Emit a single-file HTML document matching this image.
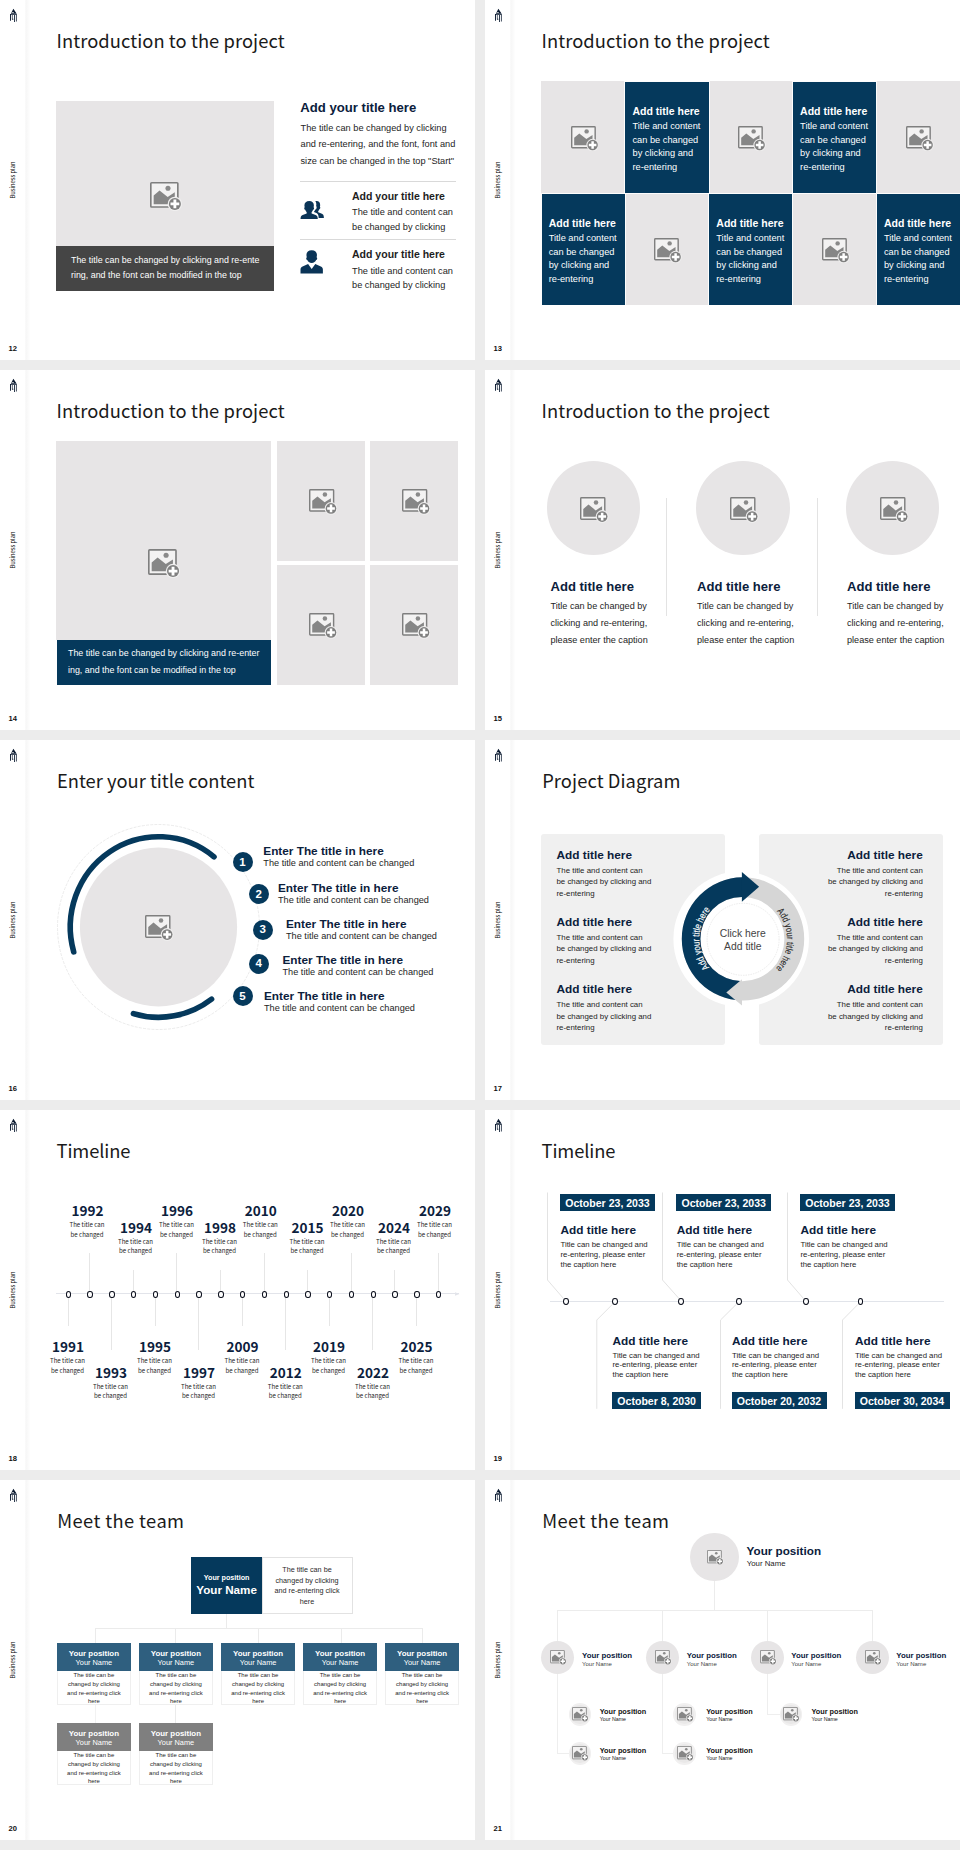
<!DOCTYPE html>
<html lang="en"><head><meta charset="utf-8"><title>Business plan slides</title>
<style>
html,body{margin:0;padding:0}
body{width:960px;height:1850px;position:relative;overflow:hidden;background:#ececec;font-family:"Liberation Sans", Arial, sans-serif;}
.slide{position:absolute;width:475px;height:360px;background:#fff;overflow:hidden}
.slide div,.slide svg{position:absolute}
.t{white-space:nowrap}
.h{font-family:"Noto Sans CJK SC", "DejaVu Sans", "Liberation Sans", sans-serif}
.sep{left:25px;top:0;width:5px;height:360px;background:linear-gradient(90deg,#fbfbfb 0,#f7f7f7 25%,#fafafa 60%,#fefefe 100%)}
.bp{left:-17px;top:174px;width:60px;height:12px;line-height:12px;font-size:5.77px;color:#000;text-align:center;transform:rotate(-90deg);white-space:nowrap;font-family:"Noto Sans CJK SC", "DejaVu Sans", "Liberation Sans", sans-serif}
.pn{left:8.5px;top:343.5px;font-size:7.6px;line-height:10px;font-weight:700;color:#111}
</style></head><body>

<div class="slide" style="left:0px;top:0px">
<div class="sep"></div>
<svg style="left:9px;top:8px" width="10" height="15" viewBox="0 0 10 15"><path d="M4.400.8L7.700 5.800H1.800zM1 6.050h6.900v.8H1zM1 6.400h.95v6.400H1zM2.900 7h.65v4.500h-.65zM3.200 10.800h1.100v1H3.200zM5.150 7h.85v6.900h-.85z" fill="#0a1a30"/><path d="M6.900 6.700H8v6.800H6.900z" fill="#0a1a30" opacity=".7"/><rect x="2.700" y="4.200" width="2.200" height=".65" fill="#fff"/></svg>
<div class="bp">Business plan</div>
<div class="pn">12</div>
<div class="t h" style="top:27px;font-size:18.33px;line-height:26px;color:#1a1a1a;letter-spacing:0.07px;left:56.5px;">Introduction to the project</div>
<div style="left:56px;top:101.2px;width:218px;height:144.8px;background:#e7e5e6;"></div>
<div style="left:56px;top:246px;width:218px;height:44.5px;background:#454545;"></div>
<svg style="left:149.5px;top:182.024px" width="32" height="28.9524" viewBox="0 0 31.5 28.5"><rect x="0.8" y="0.8" width="26.6" height="23.8" rx="0.8" fill="#f3f2f2" stroke="#7f7f7f" stroke-width="1.6"/><polygon points="3.6,13.2 9.4,8.4 17.4,14.8 24.4,10.2 24.4,21.8 3.6,21.8" fill="#868686"/><circle cx="17.7" cy="6.1" r="2.5" fill="#8a8a8a"/><circle cx="24.5" cy="21.6" r="7.1" fill="#f0efef"/><circle cx="24.5" cy="21.6" r="5.9" fill="#808080"/><path d="M23.1 17.3h2.8v2.9h2.9v2.8h-2.9v2.9h-2.8v-2.9h-2.9v-2.8h2.9z" fill="#fff"/></svg>
<div class="t" style="top:252.725px;font-size:8.9px;line-height:15.75px;color:#fff;left:71px;">The title can be changed by clicking and re-ente<br>ring, and the font can be modified in the top</div>
<div class="t" style="top:99.72px;font-size:13.13px;line-height:15.76px;color:#0b203c;font-weight:700;left:300.3px;">Add your title here</div>
<div class="t" style="top:119.725px;font-size:9.22px;line-height:16.75px;color:#242424;left:300.5px;">The title can be changed by clicking<br>and re-entering, and the font, font and<br>size can be changed in the top "Start"</div>
<div style="left:300px;top:181px;width:156px;height:1px;background:#d9d9d9;"></div>
<div style="left:300px;top:239px;width:156px;height:1px;background:#d9d9d9;"></div>
<div class="t" style="top:189.98px;font-size:10.53px;line-height:12.64px;color:#1e1e1e;font-weight:700;left:352px;">Add your title here</div>
<div class="t" style="top:205.3px;font-size:9.22px;line-height:14.6px;color:#242424;left:352px;">The title and content can<br>be changed by clicking</div>
<div class="t" style="top:248.18px;font-size:10.53px;line-height:12.64px;color:#1e1e1e;font-weight:700;left:352px;">Add your title here</div>
<div class="t" style="top:263.5px;font-size:9.22px;line-height:14.6px;color:#242424;left:352px;">The title and content can<br>be changed by clicking</div>
<svg style="left:299.6px;top:200px" width="24.6" height="19.7" viewBox="0 0 25 20"><path d="M16.700 1c2.500 0 3.800 1.600 3.800 4 0 .700-.100 1.300-.300 1.800.400.200.500.600.400 1.200-.100.700-.400 1.100-.800 1.200-.300.900-.700 1.600-1.300 2.100v1.200l3.800 1.500c1.100.500 1.700 1.300 1.800 2.500l.2 1.700h-5.300l-.2-1.700c-.2-1.700-1.100-2.900-2.700-3.500l-1.900-.8v-.3c.6-.6 1-1.300 1.300-2.200.7-.2 1.200-.9 1.400-1.900.1-.8-.1-1.400-.5-1.800.1-.5.2-1.100.2-1.700 0-1.300-.4-2.400-1-3.200.3-.1.700-.1 1.100-.1z" fill="#0a3457"/><path d="M9.400 1c2.900 0 4.700 1.700 4.700 4.400 0 .800-.100 1.500-.300 2 .400.200.600.700.500 1.300-.100.800-.500 1.200-1 1.300-.300 1-.800 1.800-1.500 2.400v1.200l4.100 1.600c1.200.500 1.900 1.300 2 2.600l.2 1.400H.5l.2-1.400c.1-1.300.8-2.100 2-2.600l4.100-1.600v-1.200c-.700-.600-1.200-1.400-1.500-2.400-.500-.100-.900-.500-1-1.300-.100-.600.100-1.100.500-1.300-.200-.500-.300-1.200-.300-2C4.500 2.700 6.500 1 9.400 1z" fill="#0a3457"/></svg>
<svg style="left:299.6px;top:248.6px" width="23.4" height="25.3" viewBox="0 0 24 26"><path d="M12 1.200c3.300 0 5.400 1.800 5.400 4.800 0 .900-.100 1.700-.400 2.400.500.200.700.800.600 1.500-.100.900-.500 1.400-1.100 1.500-.700 1.800-2.200 3-4.500 3s-3.800-1.200-4.500-3c-.600-.100-1-.600-1.100-1.500-.100-.700.100-1.300.600-1.500-.300-.700-.400-1.500-.400-2.400 0-3 2.100-4.800 5.400-4.800z" fill="#0a3457"/><path d="M8.300 15.300L12 20.600l3.700-5.300 5.700 2.600c1.400.600 2.100 1.700 2.100 3.200v4.200H.5v-4.200c0-1.500.7-2.600 2.100-3.200z" fill="#0a3457"/></svg>
</div>
<div class="slide" style="left:485px;top:0px">
<div class="sep"></div>
<svg style="left:9px;top:8px" width="10" height="15" viewBox="0 0 10 15"><path d="M4.400.8L7.700 5.800H1.800zM1 6.050h6.900v.8H1zM1 6.400h.95v6.400H1zM2.900 7h.65v4.500h-.65zM3.200 10.800h1.100v1H3.200zM5.150 7h.85v6.900h-.85z" fill="#0a1a30"/><path d="M6.900 6.700H8v6.800H6.900z" fill="#0a1a30" opacity=".7"/><rect x="2.700" y="4.200" width="2.200" height=".65" fill="#fff"/></svg>
<div class="bp">Business plan</div>
<div class="pn">13</div>
<div class="t h" style="top:27px;font-size:18.33px;line-height:26px;color:#1a1a1a;letter-spacing:0.07px;left:56.5px;">Introduction to the project</div>
<div style="left:56.2px;top:81.2px;width:418.8px;height:224.2px;background:#e7e5e6;"></div>
<svg style="left:85.6px;top:125.674px" width="27.8" height="25.1524" viewBox="0 0 31.5 28.5"><rect x="0.8" y="0.8" width="26.6" height="23.8" rx="0.8" fill="#f3f2f2" stroke="#7f7f7f" stroke-width="1.6"/><polygon points="3.6,13.2 9.4,8.4 17.4,14.8 24.4,10.2 24.4,21.8 3.6,21.8" fill="#868686"/><circle cx="17.7" cy="6.1" r="2.5" fill="#8a8a8a"/><circle cx="24.5" cy="21.6" r="7.1" fill="#f0efef"/><circle cx="24.5" cy="21.6" r="5.9" fill="#808080"/><path d="M23.1 17.3h2.8v2.9h2.9v2.8h-2.9v2.9h-2.8v-2.9h-2.9v-2.8h2.9z" fill="#fff"/></svg>
<div style="left:140.4px;top:82.2px;width:83.2px;height:110.5px;background:#05395c;box-shadow:0 0 0 0.9px #fff;"></div>
<div class="t" style="top:105.19px;font-size:10.52px;line-height:12.62px;color:#fff;font-weight:700;left:147.5px;">Add title here</div>
<div class="t" style="top:120.35px;font-size:9.24px;line-height:13.5px;color:#fff;left:147.5px;">Title and content<br>can be changed<br>by clicking and<br>re-entering</div>
<svg style="left:253.2px;top:125.674px" width="27.8" height="25.1524" viewBox="0 0 31.5 28.5"><rect x="0.8" y="0.8" width="26.6" height="23.8" rx="0.8" fill="#f3f2f2" stroke="#7f7f7f" stroke-width="1.6"/><polygon points="3.6,13.2 9.4,8.4 17.4,14.8 24.4,10.2 24.4,21.8 3.6,21.8" fill="#868686"/><circle cx="17.7" cy="6.1" r="2.5" fill="#8a8a8a"/><circle cx="24.5" cy="21.6" r="7.1" fill="#f0efef"/><circle cx="24.5" cy="21.6" r="5.9" fill="#808080"/><path d="M23.1 17.3h2.8v2.9h2.9v2.8h-2.9v2.9h-2.8v-2.9h-2.9v-2.8h2.9z" fill="#fff"/></svg>
<div style="left:308px;top:82.2px;width:83.2px;height:110.5px;background:#05395c;box-shadow:0 0 0 0.9px #fff;"></div>
<div class="t" style="top:105.19px;font-size:10.52px;line-height:12.62px;color:#fff;font-weight:700;left:315.1px;">Add title here</div>
<div class="t" style="top:120.35px;font-size:9.24px;line-height:13.5px;color:#fff;left:315.1px;">Title and content<br>can be changed<br>by clicking and<br>re-entering</div>
<svg style="left:420.8px;top:125.674px" width="27.8" height="25.1524" viewBox="0 0 31.5 28.5"><rect x="0.8" y="0.8" width="26.6" height="23.8" rx="0.8" fill="#f3f2f2" stroke="#7f7f7f" stroke-width="1.6"/><polygon points="3.6,13.2 9.4,8.4 17.4,14.8 24.4,10.2 24.4,21.8 3.6,21.8" fill="#868686"/><circle cx="17.7" cy="6.1" r="2.5" fill="#8a8a8a"/><circle cx="24.5" cy="21.6" r="7.1" fill="#f0efef"/><circle cx="24.5" cy="21.6" r="5.9" fill="#808080"/><path d="M23.1 17.3h2.8v2.9h2.9v2.8h-2.9v2.9h-2.8v-2.9h-2.9v-2.8h2.9z" fill="#fff"/></svg>
<div style="left:56.6px;top:194.3px;width:83.2px;height:110.5px;background:#05395c;box-shadow:0 0 0 0.9px #fff;"></div>
<div class="t" style="top:217.29px;font-size:10.52px;line-height:12.62px;color:#fff;font-weight:700;left:63.7px;">Add title here</div>
<div class="t" style="top:232.45px;font-size:9.24px;line-height:13.5px;color:#fff;left:63.7px;">Title and content<br>can be changed<br>by clicking and<br>re-entering</div>
<svg style="left:169.4px;top:237.774px" width="27.8" height="25.1524" viewBox="0 0 31.5 28.5"><rect x="0.8" y="0.8" width="26.6" height="23.8" rx="0.8" fill="#f3f2f2" stroke="#7f7f7f" stroke-width="1.6"/><polygon points="3.6,13.2 9.4,8.4 17.4,14.8 24.4,10.2 24.4,21.8 3.6,21.8" fill="#868686"/><circle cx="17.7" cy="6.1" r="2.5" fill="#8a8a8a"/><circle cx="24.5" cy="21.6" r="7.1" fill="#f0efef"/><circle cx="24.5" cy="21.6" r="5.9" fill="#808080"/><path d="M23.1 17.3h2.8v2.9h2.9v2.8h-2.9v2.9h-2.8v-2.9h-2.9v-2.8h2.9z" fill="#fff"/></svg>
<div style="left:224.2px;top:194.3px;width:83.2px;height:110.5px;background:#05395c;box-shadow:0 0 0 0.9px #fff;"></div>
<div class="t" style="top:217.29px;font-size:10.52px;line-height:12.62px;color:#fff;font-weight:700;left:231.3px;">Add title here</div>
<div class="t" style="top:232.45px;font-size:9.24px;line-height:13.5px;color:#fff;left:231.3px;">Title and content<br>can be changed<br>by clicking and<br>re-entering</div>
<svg style="left:337px;top:237.774px" width="27.8" height="25.1524" viewBox="0 0 31.5 28.5"><rect x="0.8" y="0.8" width="26.6" height="23.8" rx="0.8" fill="#f3f2f2" stroke="#7f7f7f" stroke-width="1.6"/><polygon points="3.6,13.2 9.4,8.4 17.4,14.8 24.4,10.2 24.4,21.8 3.6,21.8" fill="#868686"/><circle cx="17.7" cy="6.1" r="2.5" fill="#8a8a8a"/><circle cx="24.5" cy="21.6" r="7.1" fill="#f0efef"/><circle cx="24.5" cy="21.6" r="5.9" fill="#808080"/><path d="M23.1 17.3h2.8v2.9h2.9v2.8h-2.9v2.9h-2.8v-2.9h-2.9v-2.8h2.9z" fill="#fff"/></svg>
<div style="left:391.8px;top:194.3px;width:83.2px;height:110.5px;background:#05395c;box-shadow:0 0 0 0.9px #fff;"></div>
<div class="t" style="top:217.29px;font-size:10.52px;line-height:12.62px;color:#fff;font-weight:700;left:398.9px;">Add title here</div>
<div class="t" style="top:232.45px;font-size:9.24px;line-height:13.5px;color:#fff;left:398.9px;">Title and content<br>can be changed<br>by clicking and<br>re-entering</div>
</div>
<div class="slide" style="left:0px;top:370px">
<div class="sep"></div>
<svg style="left:9px;top:8px" width="10" height="15" viewBox="0 0 10 15"><path d="M4.400.8L7.700 5.800H1.800zM1 6.050h6.900v.8H1zM1 6.400h.95v6.400H1zM2.900 7h.65v4.500h-.65zM3.200 10.800h1.100v1H3.200zM5.150 7h.85v6.900h-.85z" fill="#0a1a30"/><path d="M6.900 6.700H8v6.800H6.900z" fill="#0a1a30" opacity=".7"/><rect x="2.700" y="4.200" width="2.200" height=".65" fill="#fff"/></svg>
<div class="bp">Business plan</div>
<div class="pn">14</div>
<div class="t h" style="top:27px;font-size:18.33px;line-height:26px;color:#1a1a1a;letter-spacing:0.07px;left:56.5px;">Introduction to the project</div>
<div style="left:56.3px;top:71px;width:214.7px;height:199.3px;background:#e7e5e6;"></div>
<div style="left:56.8px;top:270.3px;width:214.2px;height:44.5px;background:#05395c;"></div>
<svg style="left:148.1px;top:178.733px" width="32.2" height="29.1333" viewBox="0 0 31.5 28.5"><rect x="0.8" y="0.8" width="26.6" height="23.8" rx="0.8" fill="#f3f2f2" stroke="#7f7f7f" stroke-width="1.6"/><polygon points="3.6,13.2 9.4,8.4 17.4,14.8 24.4,10.2 24.4,21.8 3.6,21.8" fill="#868686"/><circle cx="17.7" cy="6.1" r="2.5" fill="#8a8a8a"/><circle cx="24.5" cy="21.6" r="7.1" fill="#f0efef"/><circle cx="24.5" cy="21.6" r="5.9" fill="#808080"/><path d="M23.1 17.3h2.8v2.9h2.9v2.8h-2.9v2.9h-2.8v-2.9h-2.9v-2.8h2.9z" fill="#fff"/></svg>
<div class="t" style="top:275.275px;font-size:8.88px;line-height:16.25px;color:#fff;left:68px;">The title can be changed by clicking and re-enter<br>ing, and the font can be modified in the top</div>
<div style="left:277.25px;top:71px;width:87.75px;height:119.5px;background:#e7e5e6;"></div>
<svg style="left:308.575px;top:119.048px" width="28.3" height="25.6048" viewBox="0 0 31.5 28.5"><rect x="0.8" y="0.8" width="26.6" height="23.8" rx="0.8" fill="#f3f2f2" stroke="#7f7f7f" stroke-width="1.6"/><polygon points="3.6,13.2 9.4,8.4 17.4,14.8 24.4,10.2 24.4,21.8 3.6,21.8" fill="#868686"/><circle cx="17.7" cy="6.1" r="2.5" fill="#8a8a8a"/><circle cx="24.5" cy="21.6" r="7.1" fill="#f0efef"/><circle cx="24.5" cy="21.6" r="5.9" fill="#808080"/><path d="M23.1 17.3h2.8v2.9h2.9v2.8h-2.9v2.9h-2.8v-2.9h-2.9v-2.8h2.9z" fill="#fff"/></svg>
<div style="left:277.25px;top:195px;width:87.75px;height:119.5px;background:#e7e5e6;"></div>
<svg style="left:308.575px;top:243.048px" width="28.3" height="25.6048" viewBox="0 0 31.5 28.5"><rect x="0.8" y="0.8" width="26.6" height="23.8" rx="0.8" fill="#f3f2f2" stroke="#7f7f7f" stroke-width="1.6"/><polygon points="3.6,13.2 9.4,8.4 17.4,14.8 24.4,10.2 24.4,21.8 3.6,21.8" fill="#868686"/><circle cx="17.7" cy="6.1" r="2.5" fill="#8a8a8a"/><circle cx="24.5" cy="21.6" r="7.1" fill="#f0efef"/><circle cx="24.5" cy="21.6" r="5.9" fill="#808080"/><path d="M23.1 17.3h2.8v2.9h2.9v2.8h-2.9v2.9h-2.8v-2.9h-2.9v-2.8h2.9z" fill="#fff"/></svg>
<div style="left:370.25px;top:71px;width:87.75px;height:119.5px;background:#e7e5e6;"></div>
<svg style="left:401.575px;top:119.048px" width="28.3" height="25.6048" viewBox="0 0 31.5 28.5"><rect x="0.8" y="0.8" width="26.6" height="23.8" rx="0.8" fill="#f3f2f2" stroke="#7f7f7f" stroke-width="1.6"/><polygon points="3.6,13.2 9.4,8.4 17.4,14.8 24.4,10.2 24.4,21.8 3.6,21.8" fill="#868686"/><circle cx="17.7" cy="6.1" r="2.5" fill="#8a8a8a"/><circle cx="24.5" cy="21.6" r="7.1" fill="#f0efef"/><circle cx="24.5" cy="21.6" r="5.9" fill="#808080"/><path d="M23.1 17.3h2.8v2.9h2.9v2.8h-2.9v2.9h-2.8v-2.9h-2.9v-2.8h2.9z" fill="#fff"/></svg>
<div style="left:370.25px;top:195px;width:87.75px;height:119.5px;background:#e7e5e6;"></div>
<svg style="left:401.575px;top:243.048px" width="28.3" height="25.6048" viewBox="0 0 31.5 28.5"><rect x="0.8" y="0.8" width="26.6" height="23.8" rx="0.8" fill="#f3f2f2" stroke="#7f7f7f" stroke-width="1.6"/><polygon points="3.6,13.2 9.4,8.4 17.4,14.8 24.4,10.2 24.4,21.8 3.6,21.8" fill="#868686"/><circle cx="17.7" cy="6.1" r="2.5" fill="#8a8a8a"/><circle cx="24.5" cy="21.6" r="7.1" fill="#f0efef"/><circle cx="24.5" cy="21.6" r="5.9" fill="#808080"/><path d="M23.1 17.3h2.8v2.9h2.9v2.8h-2.9v2.9h-2.8v-2.9h-2.9v-2.8h2.9z" fill="#fff"/></svg>
</div>
<div class="slide" style="left:485px;top:370px">
<div class="sep"></div>
<svg style="left:9px;top:8px" width="10" height="15" viewBox="0 0 10 15"><path d="M4.400.8L7.700 5.800H1.800zM1 6.050h6.900v.8H1zM1 6.400h.95v6.400H1zM2.900 7h.65v4.500h-.65zM3.200 10.800h1.100v1H3.200zM5.150 7h.85v6.900h-.85z" fill="#0a1a30"/><path d="M6.900 6.700H8v6.800H6.900z" fill="#0a1a30" opacity=".7"/><rect x="2.700" y="4.200" width="2.200" height=".65" fill="#fff"/></svg>
<div class="bp">Business plan</div>
<div class="pn">15</div>
<div class="t h" style="top:27px;font-size:18.33px;line-height:26px;color:#1a1a1a;letter-spacing:0.07px;left:56.5px;">Introduction to the project</div>
<div style="left:61.6px;top:91.2px;width:93.2px;height:93.6px;background:#e7e5e6;border-radius:50%;"></div>
<svg style="left:95.25px;top:126.807px" width="28.5" height="25.7857" viewBox="0 0 31.5 28.5"><rect x="0.8" y="0.8" width="26.6" height="23.8" rx="0.8" fill="#f3f2f2" stroke="#7f7f7f" stroke-width="1.6"/><polygon points="3.6,13.2 9.4,8.4 17.4,14.8 24.4,10.2 24.4,21.8 3.6,21.8" fill="#868686"/><circle cx="17.7" cy="6.1" r="2.5" fill="#8a8a8a"/><circle cx="24.5" cy="21.6" r="7.1" fill="#f0efef"/><circle cx="24.5" cy="21.6" r="5.9" fill="#808080"/><path d="M23.1 17.3h2.8v2.9h2.9v2.8h-2.9v2.9h-2.8v-2.9h-2.9v-2.8h2.9z" fill="#fff"/></svg>
<div class="t" style="top:209.06px;font-size:13.07px;line-height:15.68px;color:#0b203c;font-weight:700;left:65.5px;">Add title here</div>
<div class="t" style="top:228.2px;font-size:9.12px;line-height:17px;color:#1e1e1e;left:65.5px;">Title can be changed by<br>clicking and re-entering,<br>please enter the caption</div>
<div style="left:211.4px;top:91.2px;width:93.2px;height:93.6px;background:#e7e5e6;border-radius:50%;"></div>
<svg style="left:245.05px;top:126.807px" width="28.5" height="25.7857" viewBox="0 0 31.5 28.5"><rect x="0.8" y="0.8" width="26.6" height="23.8" rx="0.8" fill="#f3f2f2" stroke="#7f7f7f" stroke-width="1.6"/><polygon points="3.6,13.2 9.4,8.4 17.4,14.8 24.4,10.2 24.4,21.8 3.6,21.8" fill="#868686"/><circle cx="17.7" cy="6.1" r="2.5" fill="#8a8a8a"/><circle cx="24.5" cy="21.6" r="7.1" fill="#f0efef"/><circle cx="24.5" cy="21.6" r="5.9" fill="#808080"/><path d="M23.1 17.3h2.8v2.9h2.9v2.8h-2.9v2.9h-2.8v-2.9h-2.9v-2.8h2.9z" fill="#fff"/></svg>
<div class="t" style="top:209.06px;font-size:13.07px;line-height:15.68px;color:#0b203c;font-weight:700;left:212px;">Add title here</div>
<div class="t" style="top:228.2px;font-size:9.12px;line-height:17px;color:#1e1e1e;left:212px;">Title can be changed by<br>clicking and re-entering,<br>please enter the caption</div>
<div style="left:361px;top:91.2px;width:93.2px;height:93.6px;background:#e7e5e6;border-radius:50%;"></div>
<svg style="left:394.65px;top:126.807px" width="28.5" height="25.7857" viewBox="0 0 31.5 28.5"><rect x="0.8" y="0.8" width="26.6" height="23.8" rx="0.8" fill="#f3f2f2" stroke="#7f7f7f" stroke-width="1.6"/><polygon points="3.6,13.2 9.4,8.4 17.4,14.8 24.4,10.2 24.4,21.8 3.6,21.8" fill="#868686"/><circle cx="17.7" cy="6.1" r="2.5" fill="#8a8a8a"/><circle cx="24.5" cy="21.6" r="7.1" fill="#f0efef"/><circle cx="24.5" cy="21.6" r="5.9" fill="#808080"/><path d="M23.1 17.3h2.8v2.9h2.9v2.8h-2.9v2.9h-2.8v-2.9h-2.9v-2.8h2.9z" fill="#fff"/></svg>
<div class="t" style="top:209.06px;font-size:13.07px;line-height:15.68px;color:#0b203c;font-weight:700;left:362px;">Add title here</div>
<div class="t" style="top:228.2px;font-size:9.12px;line-height:17px;color:#1e1e1e;left:362px;">Title can be changed by<br>clicking and re-entering,<br>please enter the caption</div>
<div style="left:180.8px;top:128px;width:1px;height:118px;background:#e3e3e3;"></div>
<div style="left:332px;top:128px;width:1px;height:118px;background:#e3e3e3;"></div>
</div>
<div class="slide" style="left:0px;top:740px">
<div class="sep"></div>
<svg style="left:9px;top:8px" width="10" height="15" viewBox="0 0 10 15"><path d="M4.400.8L7.700 5.800H1.800zM1 6.050h6.900v.8H1zM1 6.400h.95v6.400H1zM2.900 7h.65v4.500h-.65zM3.200 10.800h1.100v1H3.200zM5.150 7h.85v6.900h-.85z" fill="#0a1a30"/><path d="M6.900 6.700H8v6.800H6.900z" fill="#0a1a30" opacity=".7"/><rect x="2.700" y="4.200" width="2.200" height=".65" fill="#fff"/></svg>
<div class="bp">Business plan</div>
<div class="pn">16</div>
<div class="t h" style="top:27px;font-size:18.33px;line-height:26px;color:#1a1a1a;letter-spacing:0px;left:57px;">Enter your title content</div>
<svg style="left:0;top:0" width="475" height="360" viewBox="0 0 475 360"><ellipse cx="158.5" cy="187" rx="101" ry="102.5" fill="none" stroke="#e3e3e3" stroke-width="0.7" stroke-dasharray="3 1.2"/><ellipse cx="158.5" cy="187" rx="78.6" ry="79.4" fill="#e7e5e6"/><path d="M73.72 211.89A88.2 90.3 0 0 1 214.01 116.82" fill="none" stroke="#05395c" stroke-width="5.6" stroke-linecap="round"/><path d="M211.58 259.12A88.2 90.3 0 0 1 133.45 273.58" fill="none" stroke="#05395c" stroke-width="5.6" stroke-linecap="round"/></svg>
<svg style="left:145.25px;top:175.107px" width="28.5" height="25.7857" viewBox="0 0 31.5 28.5"><rect x="0.8" y="0.8" width="26.6" height="23.8" rx="0.8" fill="#f3f2f2" stroke="#7f7f7f" stroke-width="1.6"/><polygon points="3.6,13.2 9.4,8.4 17.4,14.8 24.4,10.2 24.4,21.8 3.6,21.8" fill="#868686"/><circle cx="17.7" cy="6.1" r="2.5" fill="#8a8a8a"/><circle cx="24.5" cy="21.6" r="7.1" fill="#f0efef"/><circle cx="24.5" cy="21.6" r="5.9" fill="#808080"/><path d="M23.1 17.3h2.8v2.9h2.9v2.8h-2.9v2.9h-2.8v-2.9h-2.9v-2.8h2.9z" fill="#fff"/></svg>
<div style="left:232.5px;top:112.3px;width:20px;height:20px;background:#05395c;border-radius:50%;"></div>
<div class="t" style="top:115.7px;font-size:11.5px;line-height:13.8px;color:#fff;font-weight:700;left:232.5px;width:20px;text-align:center;">1</div>
<div class="t" style="top:104.325px;font-size:11.79px;line-height:14.15px;color:#0b203c;font-weight:700;left:263.3px;">Enter The title in here</div>
<div class="t" style="top:118.49px;font-size:9.18px;line-height:11.02px;color:#1e1e1e;left:263.3px;">The title and content can be changed</div>
<div style="left:248.8px;top:144.3px;width:20px;height:20px;background:#05395c;border-radius:50%;"></div>
<div class="t" style="top:147.7px;font-size:11.5px;line-height:13.8px;color:#fff;font-weight:700;left:248.8px;width:20px;text-align:center;">2</div>
<div class="t" style="top:140.575px;font-size:11.79px;line-height:14.15px;color:#0b203c;font-weight:700;left:278px;">Enter The title in here</div>
<div class="t" style="top:154.74px;font-size:9.18px;line-height:11.02px;color:#1e1e1e;left:278px;">The title and content can be changed</div>
<div style="left:252.8px;top:180px;width:20px;height:20px;background:#05395c;border-radius:50%;"></div>
<div class="t" style="top:183.4px;font-size:11.5px;line-height:13.8px;color:#fff;font-weight:700;left:252.8px;width:20px;text-align:center;">3</div>
<div class="t" style="top:176.825px;font-size:11.79px;line-height:14.15px;color:#0b203c;font-weight:700;left:286px;">Enter The title in here</div>
<div class="t" style="top:190.99px;font-size:9.18px;line-height:11.02px;color:#1e1e1e;left:286px;">The title and content can be changed</div>
<div style="left:248.8px;top:213.5px;width:20px;height:20px;background:#05395c;border-radius:50%;"></div>
<div class="t" style="top:216.9px;font-size:11.5px;line-height:13.8px;color:#fff;font-weight:700;left:248.8px;width:20px;text-align:center;">4</div>
<div class="t" style="top:213.075px;font-size:11.79px;line-height:14.15px;color:#0b203c;font-weight:700;left:282.5px;">Enter The title in here</div>
<div class="t" style="top:227.24px;font-size:9.18px;line-height:11.02px;color:#1e1e1e;left:282.5px;">The title and content can be changed</div>
<div style="left:232.5px;top:246.3px;width:20px;height:20px;background:#05395c;border-radius:50%;"></div>
<div class="t" style="top:249.7px;font-size:11.5px;line-height:13.8px;color:#fff;font-weight:700;left:232.5px;width:20px;text-align:center;">5</div>
<div class="t" style="top:249.325px;font-size:11.79px;line-height:14.15px;color:#0b203c;font-weight:700;left:264px;">Enter The title in here</div>
<div class="t" style="top:263.49px;font-size:9.18px;line-height:11.02px;color:#1e1e1e;left:264px;">The title and content can be changed</div>
</div>
<div class="slide" style="left:485px;top:740px">
<div class="sep"></div>
<svg style="left:9px;top:8px" width="10" height="15" viewBox="0 0 10 15"><path d="M4.400.8L7.700 5.800H1.800zM1 6.050h6.900v.8H1zM1 6.400h.95v6.400H1zM2.900 7h.65v4.500h-.65zM3.200 10.800h1.100v1H3.200zM5.150 7h.85v6.900h-.85z" fill="#0a1a30"/><path d="M6.900 6.700H8v6.800H6.900z" fill="#0a1a30" opacity=".7"/><rect x="2.700" y="4.200" width="2.200" height=".65" fill="#fff"/></svg>
<div class="bp">Business plan</div>
<div class="pn">17</div>
<div class="t h" style="top:27px;font-size:18.33px;line-height:26px;color:#1a1a1a;letter-spacing:0.08px;left:57.2px;">Project Diagram</div>
<div style="left:56px;top:94px;width:184px;height:211px;background:#f0f0f0;border-radius:3px;"></div>
<div style="left:273.5px;top:94px;width:184px;height:211px;background:#f0f0f0;border-radius:3px;"></div>
<div class="t" style="top:107.51px;font-size:11.82px;line-height:14.18px;color:#0b203c;font-weight:700;left:71.5px;">Add title here</div>
<div class="t" style="top:124.825px;font-size:7.87px;line-height:11.55px;color:#242424;left:71.5px;">The title and content can<br>be changed by clicking and<br>re-entering</div>
<div class="t" style="top:107.51px;font-size:11.82px;line-height:14.18px;color:#0b203c;font-weight:700;left:137.8px;width:300px;text-align:right;">Add title here</div>
<div class="t" style="top:124.825px;font-size:7.87px;line-height:11.55px;color:#242424;left:137.8px;width:300px;text-align:right;">The title and content can<br>be changed by clicking and<br>re-entering</div>
<div class="t" style="top:174.51px;font-size:11.82px;line-height:14.18px;color:#0b203c;font-weight:700;left:71.5px;">Add title here</div>
<div class="t" style="top:191.825px;font-size:7.87px;line-height:11.55px;color:#242424;left:71.5px;">The title and content can<br>be changed by clicking and<br>re-entering</div>
<div class="t" style="top:174.51px;font-size:11.82px;line-height:14.18px;color:#0b203c;font-weight:700;left:137.8px;width:300px;text-align:right;">Add title here</div>
<div class="t" style="top:191.825px;font-size:7.87px;line-height:11.55px;color:#242424;left:137.8px;width:300px;text-align:right;">The title and content can<br>be changed by clicking and<br>re-entering</div>
<div class="t" style="top:241.91px;font-size:11.82px;line-height:14.18px;color:#0b203c;font-weight:700;left:71.5px;">Add title here</div>
<div class="t" style="top:259.225px;font-size:7.87px;line-height:11.55px;color:#242424;left:71.5px;">The title and content can<br>be changed by clicking and<br>re-entering</div>
<div class="t" style="top:241.91px;font-size:11.82px;line-height:14.18px;color:#0b203c;font-weight:700;left:137.8px;width:300px;text-align:right;">Add title here</div>
<div class="t" style="top:259.225px;font-size:7.87px;line-height:11.55px;color:#242424;left:137.8px;width:300px;text-align:right;">The title and content can<br>be changed by clicking and<br>re-entering</div>
<svg style="left:0;top:0" width="475" height="360" viewBox="0 0 475 360"><circle cx="256.20000000000005" cy="199.09999999999997" r="67.8" fill="#fff"/><clipPath id="lh"><rect x="0" y="0" width="257.0" height="360"/></clipPath><path fill-rule="evenodd" d="M196.80 198.90a61.2 61.6 0 1 0 122.40 0a61.2 61.6 0 1 0 -122.40 0zM215.40 199.10a42.0 42.2 0 1 0 84.00 0a42.0 42.2 0 1 0 -84.00 0z" fill="#d6d6d6"/><path fill-rule="evenodd" d="M196.80 198.90a61.2 61.6 0 1 0 122.40 0a61.2 61.6 0 1 0 -122.40 0zM215.40 199.10a42.0 42.2 0 1 0 84.00 0a42.0 42.2 0 1 0 -84.00 0z" fill="#05395c" clip-path="url(#lh)"/><polygon points="256.90000000000003,132.10000000000002 274.1,146.79999999999995 256.90000000000003,161.79999999999995" fill="#05395c"/><polygon points="257.0,239.20000000000005 241.3,252.5 257.0,265.4" fill="#d6d6d6"/><circle cx="258.1" cy="199.29999999999995" r="36" fill="#fff" stroke="#dedede" stroke-width="0.6" stroke-dasharray="1.5 1"/><path id="arcL" d="M258.1 243.19999999999996A43.9 43.9 0 0 1 258.1 155.39999999999995" fill="none"/><path id="arcR" d="M258.1 155.39999999999995A43.9 43.9 0 0 1 258.1 243.19999999999996" fill="none"/><text font-size="9.8" fill="#fff" stroke="#fff" stroke-width="0.15" text-anchor="middle" textLength="62.5" lengthAdjust="spacingAndGlyphs"><textPath href="#arcL" startOffset="50.5%" textLength="62.5" lengthAdjust="spacingAndGlyphs">Add your title here</textPath></text><text font-size="9.8" fill="#2a2a2a" stroke="#2a2a2a" stroke-width="0.1" text-anchor="middle" textLength="62.5" lengthAdjust="spacingAndGlyphs"><textPath href="#arcR" startOffset="50.5%" textLength="62.5" lengthAdjust="spacingAndGlyphs">Add your title here</textPath></text></svg>
<div class="t" style="top:187.95px;font-size:10.35px;line-height:12.9px;color:#444;left:217.8px;width:80px;text-align:center;">Click here<br>Add title</div>
</div>
<div class="slide" style="left:0px;top:1110px">
<div class="sep"></div>
<svg style="left:9px;top:8px" width="10" height="15" viewBox="0 0 10 15"><path d="M4.400.8L7.700 5.800H1.800zM1 6.050h6.900v.8H1zM1 6.400h.95v6.400H1zM2.900 7h.65v4.500h-.65zM3.200 10.800h1.100v1H3.200zM5.150 7h.85v6.900h-.85z" fill="#0a1a30"/><path d="M6.900 6.700H8v6.800H6.900z" fill="#0a1a30" opacity=".7"/><rect x="2.700" y="4.200" width="2.200" height=".65" fill="#fff"/></svg>
<div class="bp">Business plan</div>
<div class="pn">18</div>
<div class="t h" style="top:27px;font-size:18.33px;line-height:26px;color:#1a1a1a;letter-spacing:-0.1px;left:56.5px;">Timeline</div>
<div style="left:56px;top:183.3px;width:403px;height:1.2px;background:#e2e4ea;"></div>
<svg style="left:455px;top:180.9000000000001px" width="6" height="6" viewBox="0 0 6 6"><path d="M0 1.2L4.5 3L0 4.8z" fill="#e2e4ea"/></svg>
<div class="t h" style="top:90.5px;font-size:13.56px;line-height:18px;color:#0b203c;font-weight:700;left:57.5px;width:60px;text-align:center;">1992</div>
<div class="t h" style="top:110.4px;font-size:6.09px;line-height:9.6px;color:#242424;left:57px;width:60px;text-align:center;">The title can<br>be changed</div>
<div style="left:89.28px;top:142.5px;width:1px;height:38.4px;background:#e6e6e6;"></div>
<div class="t h" style="top:227.4px;font-size:13.56px;line-height:18px;color:#0b203c;font-weight:700;left:38px;width:60px;text-align:center;">1991</div>
<div class="t h" style="top:246px;font-size:6.09px;line-height:9.6px;color:#242424;left:37.5px;width:60px;text-align:center;">The title can<br>be changed</div>
<div style="left:67.5px;top:186.9px;width:1px;height:29.1px;background:#e6e6e6;"></div>
<div class="t h" style="top:108px;font-size:13.56px;line-height:18px;color:#0b203c;font-weight:700;left:106px;width:60px;text-align:center;">1994</div>
<div class="t h" style="top:126.8px;font-size:6.09px;line-height:9.6px;color:#242424;left:105.5px;width:60px;text-align:center;">The title can<br>be changed</div>
<div style="left:132.84px;top:160px;width:1px;height:20.9px;background:#e6e6e6;"></div>
<div class="t h" style="top:253px;font-size:13.56px;line-height:18px;color:#0b203c;font-weight:700;left:81px;width:60px;text-align:center;">1993</div>
<div class="t h" style="top:271.6px;font-size:6.09px;line-height:9.6px;color:#242424;left:80.5px;width:60px;text-align:center;">The title can<br>be changed</div>
<div style="left:111.06px;top:186.9px;width:1px;height:53.1px;background:#e6e6e6;"></div>
<div class="t h" style="top:90.5px;font-size:13.56px;line-height:18px;color:#0b203c;font-weight:700;left:147px;width:60px;text-align:center;">1996</div>
<div class="t h" style="top:110.4px;font-size:6.09px;line-height:9.6px;color:#242424;left:146.5px;width:60px;text-align:center;">The title can<br>be changed</div>
<div style="left:176.4px;top:142.5px;width:1px;height:38.4px;background:#e6e6e6;"></div>
<div class="t h" style="top:227.4px;font-size:13.56px;line-height:18px;color:#0b203c;font-weight:700;left:125px;width:60px;text-align:center;">1995</div>
<div class="t h" style="top:246px;font-size:6.09px;line-height:9.6px;color:#242424;left:124.5px;width:60px;text-align:center;">The title can<br>be changed</div>
<div style="left:154.62px;top:186.9px;width:1px;height:29.1px;background:#e6e6e6;"></div>
<div class="t h" style="top:108px;font-size:13.56px;line-height:18px;color:#0b203c;font-weight:700;left:190px;width:60px;text-align:center;">1998</div>
<div class="t h" style="top:126.8px;font-size:6.09px;line-height:9.6px;color:#242424;left:189.5px;width:60px;text-align:center;">The title can<br>be changed</div>
<div style="left:219.96px;top:160px;width:1px;height:20.9px;background:#e6e6e6;"></div>
<div class="t h" style="top:253px;font-size:13.56px;line-height:18px;color:#0b203c;font-weight:700;left:169px;width:60px;text-align:center;">1997</div>
<div class="t h" style="top:271.6px;font-size:6.09px;line-height:9.6px;color:#242424;left:168.5px;width:60px;text-align:center;">The title can<br>be changed</div>
<div style="left:198.18px;top:186.9px;width:1px;height:53.1px;background:#e6e6e6;"></div>
<div class="t h" style="top:90.5px;font-size:13.56px;line-height:18px;color:#0b203c;font-weight:700;left:230.8px;width:60px;text-align:center;">2010</div>
<div class="t h" style="top:110.4px;font-size:6.09px;line-height:9.6px;color:#242424;left:230.3px;width:60px;text-align:center;">The title can<br>be changed</div>
<div style="left:263.52px;top:142.5px;width:1px;height:38.4px;background:#e6e6e6;"></div>
<div class="t h" style="top:227.4px;font-size:13.56px;line-height:18px;color:#0b203c;font-weight:700;left:212.5px;width:60px;text-align:center;">2009</div>
<div class="t h" style="top:246px;font-size:6.09px;line-height:9.6px;color:#242424;left:212px;width:60px;text-align:center;">The title can<br>be changed</div>
<div style="left:241.74px;top:186.9px;width:1px;height:29.1px;background:#e6e6e6;"></div>
<div class="t h" style="top:108px;font-size:13.56px;line-height:18px;color:#0b203c;font-weight:700;left:277.5px;width:60px;text-align:center;">2015</div>
<div class="t h" style="top:126.8px;font-size:6.09px;line-height:9.6px;color:#242424;left:277px;width:60px;text-align:center;">The title can<br>be changed</div>
<div style="left:307.08px;top:160px;width:1px;height:20.9px;background:#e6e6e6;"></div>
<div class="t h" style="top:253px;font-size:13.56px;line-height:18px;color:#0b203c;font-weight:700;left:255.8px;width:60px;text-align:center;">2012</div>
<div class="t h" style="top:271.6px;font-size:6.09px;line-height:9.6px;color:#242424;left:255.3px;width:60px;text-align:center;">The title can<br>be changed</div>
<div style="left:285.3px;top:186.9px;width:1px;height:53.1px;background:#e6e6e6;"></div>
<div class="t h" style="top:90.5px;font-size:13.56px;line-height:18px;color:#0b203c;font-weight:700;left:318px;width:60px;text-align:center;">2020</div>
<div class="t h" style="top:110.4px;font-size:6.09px;line-height:9.6px;color:#242424;left:317.5px;width:60px;text-align:center;">The title can<br>be changed</div>
<div style="left:350.64px;top:142.5px;width:1px;height:38.4px;background:#e6e6e6;"></div>
<div class="t h" style="top:227.4px;font-size:13.56px;line-height:18px;color:#0b203c;font-weight:700;left:299px;width:60px;text-align:center;">2019</div>
<div class="t h" style="top:246px;font-size:6.09px;line-height:9.6px;color:#242424;left:298.5px;width:60px;text-align:center;">The title can<br>be changed</div>
<div style="left:328.86px;top:186.9px;width:1px;height:29.1px;background:#e6e6e6;"></div>
<div class="t h" style="top:108px;font-size:13.56px;line-height:18px;color:#0b203c;font-weight:700;left:364px;width:60px;text-align:center;">2024</div>
<div class="t h" style="top:126.8px;font-size:6.09px;line-height:9.6px;color:#242424;left:363.5px;width:60px;text-align:center;">The title can<br>be changed</div>
<div style="left:394.2px;top:160px;width:1px;height:20.9px;background:#e6e6e6;"></div>
<div class="t h" style="top:253px;font-size:13.56px;line-height:18px;color:#0b203c;font-weight:700;left:343px;width:60px;text-align:center;">2022</div>
<div class="t h" style="top:271.6px;font-size:6.09px;line-height:9.6px;color:#242424;left:342.5px;width:60px;text-align:center;">The title can<br>be changed</div>
<div style="left:372.42px;top:186.9px;width:1px;height:53.1px;background:#e6e6e6;"></div>
<div class="t h" style="top:90.5px;font-size:13.56px;line-height:18px;color:#0b203c;font-weight:700;left:405px;width:60px;text-align:center;">2029</div>
<div class="t h" style="top:110.4px;font-size:6.09px;line-height:9.6px;color:#242424;left:404.5px;width:60px;text-align:center;">The title can<br>be changed</div>
<div style="left:437.76px;top:142.5px;width:1px;height:38.4px;background:#e6e6e6;"></div>
<div class="t h" style="top:227.4px;font-size:13.56px;line-height:18px;color:#0b203c;font-weight:700;left:386.5px;width:60px;text-align:center;">2025</div>
<div class="t h" style="top:246px;font-size:6.09px;line-height:9.6px;color:#242424;left:386px;width:60px;text-align:center;">The title can<br>be changed</div>
<div style="left:415.98px;top:186.9px;width:1px;height:29.1px;background:#e6e6e6;"></div>
<div style="left:65.7px;top:181px;width:5.4px;height:6.6px;background:#fff;border-radius:50%;border:1.15px solid #0b0f1c;box-sizing:border-box;"></div>
<div style="left:87.48px;top:181px;width:5.4px;height:6.6px;background:#fff;border-radius:50%;border:1.15px solid #0b0f1c;box-sizing:border-box;"></div>
<div style="left:109.26px;top:181px;width:5.4px;height:6.6px;background:#fff;border-radius:50%;border:1.15px solid #0b0f1c;box-sizing:border-box;"></div>
<div style="left:131.04px;top:181px;width:5.4px;height:6.6px;background:#fff;border-radius:50%;border:1.15px solid #0b0f1c;box-sizing:border-box;"></div>
<div style="left:152.82px;top:181px;width:5.4px;height:6.6px;background:#fff;border-radius:50%;border:1.15px solid #0b0f1c;box-sizing:border-box;"></div>
<div style="left:174.6px;top:181px;width:5.4px;height:6.6px;background:#fff;border-radius:50%;border:1.15px solid #0b0f1c;box-sizing:border-box;"></div>
<div style="left:196.38px;top:181px;width:5.4px;height:6.6px;background:#fff;border-radius:50%;border:1.15px solid #0b0f1c;box-sizing:border-box;"></div>
<div style="left:218.16px;top:181px;width:5.4px;height:6.6px;background:#fff;border-radius:50%;border:1.15px solid #0b0f1c;box-sizing:border-box;"></div>
<div style="left:239.94px;top:181px;width:5.4px;height:6.6px;background:#fff;border-radius:50%;border:1.15px solid #0b0f1c;box-sizing:border-box;"></div>
<div style="left:261.72px;top:181px;width:5.4px;height:6.6px;background:#fff;border-radius:50%;border:1.15px solid #0b0f1c;box-sizing:border-box;"></div>
<div style="left:283.5px;top:181px;width:5.4px;height:6.6px;background:#fff;border-radius:50%;border:1.15px solid #0b0f1c;box-sizing:border-box;"></div>
<div style="left:305.28px;top:181px;width:5.4px;height:6.6px;background:#fff;border-radius:50%;border:1.15px solid #0b0f1c;box-sizing:border-box;"></div>
<div style="left:327.06px;top:181px;width:5.4px;height:6.6px;background:#fff;border-radius:50%;border:1.15px solid #0b0f1c;box-sizing:border-box;"></div>
<div style="left:348.84px;top:181px;width:5.4px;height:6.6px;background:#fff;border-radius:50%;border:1.15px solid #0b0f1c;box-sizing:border-box;"></div>
<div style="left:370.62px;top:181px;width:5.4px;height:6.6px;background:#fff;border-radius:50%;border:1.15px solid #0b0f1c;box-sizing:border-box;"></div>
<div style="left:392.4px;top:181px;width:5.4px;height:6.6px;background:#fff;border-radius:50%;border:1.15px solid #0b0f1c;box-sizing:border-box;"></div>
<div style="left:414.18px;top:181px;width:5.4px;height:6.6px;background:#fff;border-radius:50%;border:1.15px solid #0b0f1c;box-sizing:border-box;"></div>
<div style="left:435.96px;top:181px;width:5.4px;height:6.6px;background:#fff;border-radius:50%;border:1.15px solid #0b0f1c;box-sizing:border-box;"></div>
</div>
<div class="slide" style="left:485px;top:1110px">
<div class="sep"></div>
<svg style="left:9px;top:8px" width="10" height="15" viewBox="0 0 10 15"><path d="M4.400.8L7.700 5.800H1.800zM1 6.050h6.900v.8H1zM1 6.400h.95v6.400H1zM2.900 7h.65v4.500h-.65zM3.200 10.800h1.100v1H3.200zM5.150 7h.85v6.900h-.85z" fill="#0a1a30"/><path d="M6.900 6.700H8v6.800H6.900z" fill="#0a1a30" opacity=".7"/><rect x="2.700" y="4.200" width="2.200" height=".65" fill="#fff"/></svg>
<div class="bp">Business plan</div>
<div class="pn">19</div>
<div class="t h" style="top:27px;font-size:18.33px;line-height:26px;color:#1a1a1a;letter-spacing:-0.1px;left:56.5px;">Timeline</div>
<div style="left:64.5px;top:190.6px;width:394.3px;height:1.4px;background:#e1e4ea;"></div>
<div style="left:75px;top:84.3px;width:95px;height:16.8px;background:#05395c;"></div>
<div class="t" style="top:86.665px;font-size:10.56px;line-height:12.67px;color:#fff;font-weight:700;left:75px;width:95px;text-align:center;">October 23, 2033</div>
<div class="t" style="top:113.41px;font-size:11.82px;line-height:14.18px;color:#0b203c;font-weight:700;left:75.5px;">Add title here</div>
<div class="t" style="top:130.425px;font-size:7.79px;line-height:9.55px;color:#1e1e1e;left:75.5px;">Title can be changed and<br>re-entering, please enter<br>the caption here</div>
<div style="left:191.2px;top:84.3px;width:95px;height:16.8px;background:#05395c;"></div>
<div class="t" style="top:86.665px;font-size:10.56px;line-height:12.67px;color:#fff;font-weight:700;left:191.2px;width:95px;text-align:center;">October 23, 2033</div>
<div class="t" style="top:113.41px;font-size:11.82px;line-height:14.18px;color:#0b203c;font-weight:700;left:191.7px;">Add title here</div>
<div class="t" style="top:130.425px;font-size:7.79px;line-height:9.55px;color:#1e1e1e;left:191.7px;">Title can be changed and<br>re-entering, please enter<br>the caption here</div>
<div style="left:315px;top:84.3px;width:95px;height:16.8px;background:#05395c;"></div>
<div class="t" style="top:86.665px;font-size:10.56px;line-height:12.67px;color:#fff;font-weight:700;left:315px;width:95px;text-align:center;">October 23, 2033</div>
<div class="t" style="top:113.41px;font-size:11.82px;line-height:14.18px;color:#0b203c;font-weight:700;left:315.5px;">Add title here</div>
<div class="t" style="top:130.425px;font-size:7.79px;line-height:9.55px;color:#1e1e1e;left:315.5px;">Title can be changed and<br>re-entering, please enter<br>the caption here</div>
<div class="t" style="top:224.21px;font-size:11.82px;line-height:14.18px;color:#0b203c;font-weight:700;left:127.5px;">Add title here</div>
<div class="t" style="top:240.925px;font-size:7.79px;line-height:9.55px;color:#1e1e1e;left:127.5px;">Title can be changed and<br>re-entering, please enter<br>the caption here</div>
<div style="left:127px;top:282.3px;width:89.3px;height:17.2px;background:#05395c;"></div>
<div class="t" style="top:284.865px;font-size:10.56px;line-height:12.67px;color:#fff;font-weight:700;left:127px;width:89.3px;text-align:center;">October 8, 2030</div>
<div class="t" style="top:224.21px;font-size:11.82px;line-height:14.18px;color:#0b203c;font-weight:700;left:247px;">Add title here</div>
<div class="t" style="top:240.925px;font-size:7.79px;line-height:9.55px;color:#1e1e1e;left:247px;">Title can be changed and<br>re-entering, please enter<br>the caption here</div>
<div style="left:246.5px;top:282.3px;width:95px;height:17.2px;background:#05395c;"></div>
<div class="t" style="top:284.865px;font-size:10.56px;line-height:12.67px;color:#fff;font-weight:700;left:246.5px;width:95px;text-align:center;">October 20, 2032</div>
<div class="t" style="top:224.21px;font-size:11.82px;line-height:14.18px;color:#0b203c;font-weight:700;left:370px;">Add title here</div>
<div class="t" style="top:240.925px;font-size:7.79px;line-height:9.55px;color:#1e1e1e;left:370px;">Title can be changed and<br>re-entering, please enter<br>the caption here</div>
<div style="left:369.5px;top:282.3px;width:95px;height:17.2px;background:#05395c;"></div>
<div class="t" style="top:284.865px;font-size:10.56px;line-height:12.67px;color:#fff;font-weight:700;left:369.5px;width:95px;text-align:center;">October 30, 2034</div>
<svg style="left:0;top:0" width="475" height="360" viewBox="0 0 475 360" fill="none" stroke="#e3e3e3" stroke-width="1"><path d="M62.5 82.5V170L78.29999999999995 188.29999999999995"/><path d="M177.5 82.5V170L193.79999999999995 188.29999999999995"/><path d="M302.5 82.5V170L318.29999999999995 188.29999999999995"/><path d="M127.5 194.29999999999995L111.79999999999995 210V298.79999999999995"/><path d="M251.29999999999995 194.29999999999995L235.5 210V298.79999999999995"/><path d="M373.0 194.29999999999995L357.5 210V298.79999999999995"/></svg>
<div style="left:77.9px;top:187.9px;width:5.8px;height:6.9px;background:#fff;border-radius:50%;border:1.15px solid #0b0f1c;box-sizing:border-box;"></div>
<div style="left:127.1px;top:187.9px;width:5.8px;height:6.9px;background:#fff;border-radius:50%;border:1.15px solid #0b0f1c;box-sizing:border-box;"></div>
<div style="left:193.4px;top:187.9px;width:5.8px;height:6.9px;background:#fff;border-radius:50%;border:1.15px solid #0b0f1c;box-sizing:border-box;"></div>
<div style="left:250.9px;top:187.9px;width:5.8px;height:6.9px;background:#fff;border-radius:50%;border:1.15px solid #0b0f1c;box-sizing:border-box;"></div>
<div style="left:317.9px;top:187.9px;width:5.8px;height:6.9px;background:#fff;border-radius:50%;border:1.15px solid #0b0f1c;box-sizing:border-box;"></div>
<div style="left:372.6px;top:187.9px;width:5.8px;height:6.9px;background:#fff;border-radius:50%;border:1.15px solid #0b0f1c;box-sizing:border-box;"></div>
</div>
<div class="slide" style="left:0px;top:1480px">
<div class="sep"></div>
<svg style="left:9px;top:8px" width="10" height="15" viewBox="0 0 10 15"><path d="M4.400.8L7.700 5.800H1.800zM1 6.050h6.900v.8H1zM1 6.400h.95v6.400H1zM2.900 7h.65v4.500h-.65zM3.200 10.800h1.100v1H3.200zM5.150 7h.85v6.900h-.85z" fill="#0a1a30"/><path d="M6.900 6.700H8v6.800H6.900z" fill="#0a1a30" opacity=".7"/><rect x="2.700" y="4.200" width="2.200" height=".65" fill="#fff"/></svg>
<div class="bp">Business plan</div>
<div class="pn">20</div>
<div class="t h" style="top:27px;font-size:18.33px;line-height:26px;color:#1a1a1a;letter-spacing:0.4px;left:57.2px;">Meet the team</div>
<div style="left:225.8px;top:133.5px;width:1px;height:15px;background:#ebebeb;"></div>
<div style="left:95px;top:147.8px;width:328px;height:1px;background:#ebebeb;"></div>
<div style="left:94.5px;top:148px;width:1px;height:16px;background:#ebebeb;"></div>
<div style="left:175.3px;top:148px;width:1px;height:16px;background:#ebebeb;"></div>
<div style="left:258.3px;top:148px;width:1px;height:16px;background:#ebebeb;"></div>
<div style="left:340.8px;top:148px;width:1px;height:16px;background:#ebebeb;"></div>
<div style="left:422px;top:148px;width:1px;height:16px;background:#ebebeb;"></div>
<div style="left:175.3px;top:224px;width:1px;height:20px;background:#ebebeb;"></div>
<div style="left:94.5px;top:224px;width:1px;height:20px;background:#f2f2f2;"></div>
<div style="left:262px;top:76.6px;width:90.5px;height:57px;background:#fff;border:0.8px solid #e2e2e2;box-sizing:border-box;"></div>
<div style="left:191.2px;top:77px;width:70.8px;height:56.8px;background:#05395c;"></div>
<div class="t" style="top:94.29px;font-size:7.18px;line-height:8.62px;color:#fff;font-weight:700;left:191.6px;width:70px;text-align:center;">Your position</div>
<div class="t" style="top:103.3px;font-size:11.67px;line-height:14px;color:#fff;font-weight:700;left:191.6px;width:70px;text-align:center;">Your Name</div>
<div class="t" style="top:85.225px;font-size:7.22px;line-height:10.55px;color:#2a2a2a;left:262px;width:90px;text-align:center;">The title can be<br>changed by clicking<br>and re-entering click<br>here</div>
<div style="left:57px;top:163.3px;width:73.8px;height:61.6px;background:#fff;border:0.8px solid #efefef;box-sizing:border-box;overflow:hidden;"></div>
<div style="left:57px;top:163.3px;width:73.8px;height:27.5px;background:#2f5f7f;"></div>
<div class="t" style="top:168.565px;font-size:7.89px;line-height:9.47px;color:#fff;font-weight:700;left:57.4px;width:73px;text-align:center;">Your position</div>
<div class="t" style="top:178.96px;font-size:7.4px;line-height:8.88px;color:#fff;left:57.4px;width:73px;text-align:center;">Your Name</div>
<div class="t" style="left:57px;top:190.8px;width:73.8px;height:33.6px;overflow:hidden;text-align:center;font-size:5.96px;line-height:8.7px;color:#1e1e1e;padding-top:0.3px">The title can be<br>changed by clicking<br>and re-entering click<br>here</div>
<div style="left:139px;top:163.3px;width:73.8px;height:61.6px;background:#fff;border:0.8px solid #efefef;box-sizing:border-box;overflow:hidden;"></div>
<div style="left:139px;top:163.3px;width:73.8px;height:27.5px;background:#2f5f7f;"></div>
<div class="t" style="top:168.565px;font-size:7.89px;line-height:9.47px;color:#fff;font-weight:700;left:139.4px;width:73px;text-align:center;">Your position</div>
<div class="t" style="top:178.96px;font-size:7.4px;line-height:8.88px;color:#fff;left:139.4px;width:73px;text-align:center;">Your Name</div>
<div class="t" style="left:139px;top:190.8px;width:73.8px;height:33.6px;overflow:hidden;text-align:center;font-size:5.96px;line-height:8.7px;color:#1e1e1e;padding-top:0.3px">The title can be<br>changed by clicking<br>and re-entering click<br>here</div>
<div style="left:221.2px;top:163.3px;width:73.8px;height:61.6px;background:#fff;border:0.8px solid #efefef;box-sizing:border-box;overflow:hidden;"></div>
<div style="left:221.2px;top:163.3px;width:73.8px;height:27.5px;background:#2f5f7f;"></div>
<div class="t" style="top:168.565px;font-size:7.89px;line-height:9.47px;color:#fff;font-weight:700;left:221.6px;width:73px;text-align:center;">Your position</div>
<div class="t" style="top:178.96px;font-size:7.4px;line-height:8.88px;color:#fff;left:221.6px;width:73px;text-align:center;">Your Name</div>
<div class="t" style="left:221.2px;top:190.8px;width:73.8px;height:33.6px;overflow:hidden;text-align:center;font-size:5.96px;line-height:8.7px;color:#1e1e1e;padding-top:0.3px">The title can be<br>changed by clicking<br>and re-entering click<br>here</div>
<div style="left:303.2px;top:163.3px;width:73.8px;height:61.6px;background:#fff;border:0.8px solid #efefef;box-sizing:border-box;overflow:hidden;"></div>
<div style="left:303.2px;top:163.3px;width:73.8px;height:27.5px;background:#2f5f7f;"></div>
<div class="t" style="top:168.565px;font-size:7.89px;line-height:9.47px;color:#fff;font-weight:700;left:303.6px;width:73px;text-align:center;">Your position</div>
<div class="t" style="top:178.96px;font-size:7.4px;line-height:8.88px;color:#fff;left:303.6px;width:73px;text-align:center;">Your Name</div>
<div class="t" style="left:303.2px;top:190.8px;width:73.8px;height:33.6px;overflow:hidden;text-align:center;font-size:5.96px;line-height:8.7px;color:#1e1e1e;padding-top:0.3px">The title can be<br>changed by clicking<br>and re-entering click<br>here</div>
<div style="left:385.2px;top:163.3px;width:73.8px;height:61.6px;background:#fff;border:0.8px solid #efefef;box-sizing:border-box;overflow:hidden;"></div>
<div style="left:385.2px;top:163.3px;width:73.8px;height:27.5px;background:#2f5f7f;"></div>
<div class="t" style="top:168.565px;font-size:7.89px;line-height:9.47px;color:#fff;font-weight:700;left:385.6px;width:73px;text-align:center;">Your position</div>
<div class="t" style="top:178.96px;font-size:7.4px;line-height:8.88px;color:#fff;left:385.6px;width:73px;text-align:center;">Your Name</div>
<div class="t" style="left:385.2px;top:190.8px;width:73.8px;height:33.6px;overflow:hidden;text-align:center;font-size:5.96px;line-height:8.7px;color:#1e1e1e;padding-top:0.3px">The title can be<br>changed by clicking<br>and re-entering click<br>here</div>
<div style="left:57px;top:243.3px;width:73.8px;height:61.6px;background:#fff;border:0.8px solid #efefef;box-sizing:border-box;overflow:hidden;"></div>
<div style="left:57px;top:243.3px;width:73.8px;height:27.5px;background:#7f7f7f;"></div>
<div class="t" style="top:248.565px;font-size:7.89px;line-height:9.47px;color:#fff;font-weight:700;left:57.4px;width:73px;text-align:center;">Your position</div>
<div class="t" style="top:258.96px;font-size:7.4px;line-height:8.88px;color:#fff;left:57.4px;width:73px;text-align:center;">Your Name</div>
<div class="t" style="left:57px;top:270.8px;width:73.8px;height:33.6px;overflow:hidden;text-align:center;font-size:5.96px;line-height:8.7px;color:#1e1e1e;padding-top:0.3px">The title can be<br>changed by clicking<br>and re-entering click<br>here</div>
<div style="left:139px;top:243.3px;width:73.8px;height:61.6px;background:#fff;border:0.8px solid #efefef;box-sizing:border-box;overflow:hidden;"></div>
<div style="left:139px;top:243.3px;width:73.8px;height:27.5px;background:#7f7f7f;"></div>
<div class="t" style="top:248.565px;font-size:7.89px;line-height:9.47px;color:#fff;font-weight:700;left:139.4px;width:73px;text-align:center;">Your position</div>
<div class="t" style="top:258.96px;font-size:7.4px;line-height:8.88px;color:#fff;left:139.4px;width:73px;text-align:center;">Your Name</div>
<div class="t" style="left:139px;top:270.8px;width:73.8px;height:33.6px;overflow:hidden;text-align:center;font-size:5.96px;line-height:8.7px;color:#1e1e1e;padding-top:0.3px">The title can be<br>changed by clicking<br>and re-entering click<br>here</div>
</div>
<div class="slide" style="left:485px;top:1480px">
<div class="sep"></div>
<svg style="left:9px;top:8px" width="10" height="15" viewBox="0 0 10 15"><path d="M4.400.8L7.700 5.800H1.800zM1 6.050h6.900v.8H1zM1 6.400h.95v6.400H1zM2.900 7h.65v4.500h-.65zM3.200 10.800h1.100v1H3.200zM5.150 7h.85v6.900h-.85z" fill="#0a1a30"/><path d="M6.900 6.700H8v6.800H6.900z" fill="#0a1a30" opacity=".7"/><rect x="2.700" y="4.200" width="2.200" height=".65" fill="#fff"/></svg>
<div class="bp">Business plan</div>
<div class="pn">21</div>
<div class="t h" style="top:27px;font-size:18.33px;line-height:26px;color:#1a1a1a;letter-spacing:0.4px;left:57.2px;">Meet the team</div>
<div style="left:229px;top:101px;width:1px;height:30px;background:#ececec;"></div>
<div style="left:72.5px;top:130.2px;width:315.5px;height:1px;background:#ececec;"></div>
<div style="left:71.8px;top:130.2px;width:1px;height:32px;background:#ececec;"></div>
<div style="left:177px;top:130.2px;width:1px;height:32px;background:#ececec;"></div>
<div style="left:282px;top:130.2px;width:1px;height:32px;background:#ececec;"></div>
<div style="left:387px;top:130.2px;width:1px;height:32px;background:#ececec;"></div>
<div style="left:72px;top:193px;width:1px;height:80.5px;background:#eeeeee;"></div>
<div style="left:72px;top:273px;width:12px;height:1px;background:#eeeeee;"></div>
<div style="left:177px;top:193px;width:1px;height:80.5px;background:#eeeeee;"></div>
<div style="left:177px;top:273px;width:12px;height:1px;background:#eeeeee;"></div>
<div style="left:282px;top:193px;width:1px;height:41.5px;background:#eeeeee;"></div>
<div style="left:282px;top:234px;width:13px;height:1px;background:#eeeeee;"></div>
<div style="left:205.1px;top:52.6px;width:48.8px;height:48.8px;background:#e7e5e6;border-radius:50%;"></div>
<svg style="left:222.05px;top:69.8357px" width="16.5" height="14.9286" viewBox="0 0 31.5 28.5"><rect x="0.8" y="0.8" width="26.6" height="23.8" rx="0.8" fill="#f3f2f2" stroke="#7f7f7f" stroke-width="1.6"/><polygon points="3.6,13.2 9.4,8.4 17.4,14.8 24.4,10.2 24.4,21.8 3.6,21.8" fill="#868686"/><circle cx="17.7" cy="6.1" r="2.5" fill="#8a8a8a"/><circle cx="24.5" cy="21.6" r="7.1" fill="#f0efef"/><circle cx="24.5" cy="21.6" r="5.9" fill="#808080"/><path d="M23.1 17.3h2.8v2.9h2.9v2.8h-2.9v2.9h-2.8v-2.9h-2.9v-2.8h2.9z" fill="#fff"/></svg>
<div class="t" style="top:63.98px;font-size:11.7px;line-height:14.04px;color:#0b203c;font-weight:700;left:261.6px;">Your position</div>
<div class="t" style="top:78.72px;font-size:7.8px;line-height:9.36px;color:#242424;left:261.8px;">Your Name</div>
<div style="left:55.6px;top:160.8px;width:33.4px;height:33.4px;background:#e7e5e6;border-radius:50%;"></div>
<svg style="left:64.85px;top:170.336px" width="16.5" height="14.9286" viewBox="0 0 31.5 28.5"><rect x="0.8" y="0.8" width="26.6" height="23.8" rx="0.8" fill="#f3f2f2" stroke="#7f7f7f" stroke-width="1.6"/><polygon points="3.6,13.2 9.4,8.4 17.4,14.8 24.4,10.2 24.4,21.8 3.6,21.8" fill="#868686"/><circle cx="17.7" cy="6.1" r="2.5" fill="#8a8a8a"/><circle cx="24.5" cy="21.6" r="7.1" fill="#f0efef"/><circle cx="24.5" cy="21.6" r="5.9" fill="#808080"/><path d="M23.1 17.3h2.8v2.9h2.9v2.8h-2.9v2.9h-2.8v-2.9h-2.9v-2.8h2.9z" fill="#fff"/></svg>
<div class="t" style="top:170.69px;font-size:7.85px;line-height:9.42px;color:#0b203c;font-weight:700;left:97px;">Your position</div>
<div class="t" style="top:181.175px;font-size:6.04px;line-height:7.25px;color:#444;left:97px;">Your Name</div>
<div style="left:160.8px;top:160.8px;width:33.4px;height:33.4px;background:#e7e5e6;border-radius:50%;"></div>
<svg style="left:170.05px;top:170.336px" width="16.5" height="14.9286" viewBox="0 0 31.5 28.5"><rect x="0.8" y="0.8" width="26.6" height="23.8" rx="0.8" fill="#f3f2f2" stroke="#7f7f7f" stroke-width="1.6"/><polygon points="3.6,13.2 9.4,8.4 17.4,14.8 24.4,10.2 24.4,21.8 3.6,21.8" fill="#868686"/><circle cx="17.7" cy="6.1" r="2.5" fill="#8a8a8a"/><circle cx="24.5" cy="21.6" r="7.1" fill="#f0efef"/><circle cx="24.5" cy="21.6" r="5.9" fill="#808080"/><path d="M23.1 17.3h2.8v2.9h2.9v2.8h-2.9v2.9h-2.8v-2.9h-2.9v-2.8h2.9z" fill="#fff"/></svg>
<div class="t" style="top:170.69px;font-size:7.85px;line-height:9.42px;color:#0b203c;font-weight:700;left:201.8px;">Your position</div>
<div class="t" style="top:181.175px;font-size:6.04px;line-height:7.25px;color:#444;left:201.8px;">Your Name</div>
<div style="left:265.8px;top:160.8px;width:33.4px;height:33.4px;background:#e7e5e6;border-radius:50%;"></div>
<svg style="left:275.05px;top:170.336px" width="16.5" height="14.9286" viewBox="0 0 31.5 28.5"><rect x="0.8" y="0.8" width="26.6" height="23.8" rx="0.8" fill="#f3f2f2" stroke="#7f7f7f" stroke-width="1.6"/><polygon points="3.6,13.2 9.4,8.4 17.4,14.8 24.4,10.2 24.4,21.8 3.6,21.8" fill="#868686"/><circle cx="17.7" cy="6.1" r="2.5" fill="#8a8a8a"/><circle cx="24.5" cy="21.6" r="7.1" fill="#f0efef"/><circle cx="24.5" cy="21.6" r="5.9" fill="#808080"/><path d="M23.1 17.3h2.8v2.9h2.9v2.8h-2.9v2.9h-2.8v-2.9h-2.9v-2.8h2.9z" fill="#fff"/></svg>
<div class="t" style="top:170.69px;font-size:7.85px;line-height:9.42px;color:#0b203c;font-weight:700;left:306.3px;">Your position</div>
<div class="t" style="top:181.175px;font-size:6.04px;line-height:7.25px;color:#444;left:306.3px;">Your Name</div>
<div style="left:370.8px;top:160.8px;width:33.4px;height:33.4px;background:#e7e5e6;border-radius:50%;"></div>
<svg style="left:380.05px;top:170.336px" width="16.5" height="14.9286" viewBox="0 0 31.5 28.5"><rect x="0.8" y="0.8" width="26.6" height="23.8" rx="0.8" fill="#f3f2f2" stroke="#7f7f7f" stroke-width="1.6"/><polygon points="3.6,13.2 9.4,8.4 17.4,14.8 24.4,10.2 24.4,21.8 3.6,21.8" fill="#868686"/><circle cx="17.7" cy="6.1" r="2.5" fill="#8a8a8a"/><circle cx="24.5" cy="21.6" r="7.1" fill="#f0efef"/><circle cx="24.5" cy="21.6" r="5.9" fill="#808080"/><path d="M23.1 17.3h2.8v2.9h2.9v2.8h-2.9v2.9h-2.8v-2.9h-2.9v-2.8h2.9z" fill="#fff"/></svg>
<div class="t" style="top:170.69px;font-size:7.85px;line-height:9.42px;color:#0b203c;font-weight:700;left:411.3px;">Your position</div>
<div class="t" style="top:181.175px;font-size:6.04px;line-height:7.25px;color:#444;left:411.3px;">Your Name</div>
<div style="left:83.7px;top:223px;width:22.6px;height:22.6px;background:#f1f0f0;border-radius:50%;"></div>
<div style="left:85.4px;top:224.7px;width:19.2px;height:19.2px;background:#e9e8e8;border-radius:50%;"></div>
<svg style="left:87.35px;top:227.436px" width="16.5" height="14.9286" viewBox="0 0 31.5 28.5"><rect x="0.8" y="0.8" width="26.6" height="23.8" rx="0.8" fill="#f3f2f2" stroke="#7f7f7f" stroke-width="1.6"/><polygon points="3.6,13.2 9.4,8.4 17.4,14.8 24.4,10.2 24.4,21.8 3.6,21.8" fill="#868686"/><circle cx="17.7" cy="6.1" r="2.5" fill="#8a8a8a"/><circle cx="24.5" cy="21.6" r="7.1" fill="#f0efef"/><circle cx="24.5" cy="21.6" r="5.9" fill="#808080"/><path d="M23.1 17.3h2.8v2.9h2.9v2.8h-2.9v2.9h-2.8v-2.9h-2.9v-2.8h2.9z" fill="#fff"/></svg>
<div class="t" style="top:227.52px;font-size:7.3px;line-height:8.76px;color:#141414;font-weight:700;left:114.8px;">Your position</div>
<div class="t" style="top:235.725px;font-size:5.29px;line-height:6.35px;color:#161616;left:114.8px;">Your Name</div>
<div style="left:83.7px;top:262px;width:22.6px;height:22.6px;background:#f1f0f0;border-radius:50%;"></div>
<div style="left:85.4px;top:263.7px;width:19.2px;height:19.2px;background:#e9e8e8;border-radius:50%;"></div>
<svg style="left:87.35px;top:266.436px" width="16.5" height="14.9286" viewBox="0 0 31.5 28.5"><rect x="0.8" y="0.8" width="26.6" height="23.8" rx="0.8" fill="#f3f2f2" stroke="#7f7f7f" stroke-width="1.6"/><polygon points="3.6,13.2 9.4,8.4 17.4,14.8 24.4,10.2 24.4,21.8 3.6,21.8" fill="#868686"/><circle cx="17.7" cy="6.1" r="2.5" fill="#8a8a8a"/><circle cx="24.5" cy="21.6" r="7.1" fill="#f0efef"/><circle cx="24.5" cy="21.6" r="5.9" fill="#808080"/><path d="M23.1 17.3h2.8v2.9h2.9v2.8h-2.9v2.9h-2.8v-2.9h-2.9v-2.8h2.9z" fill="#fff"/></svg>
<div class="t" style="top:266.52px;font-size:7.3px;line-height:8.76px;color:#141414;font-weight:700;left:114.8px;">Your position</div>
<div class="t" style="top:274.725px;font-size:5.29px;line-height:6.35px;color:#161616;left:114.8px;">Your Name</div>
<div style="left:188.2px;top:223px;width:22.6px;height:22.6px;background:#f1f0f0;border-radius:50%;"></div>
<div style="left:189.9px;top:224.7px;width:19.2px;height:19.2px;background:#e9e8e8;border-radius:50%;"></div>
<svg style="left:191.85px;top:227.436px" width="16.5" height="14.9286" viewBox="0 0 31.5 28.5"><rect x="0.8" y="0.8" width="26.6" height="23.8" rx="0.8" fill="#f3f2f2" stroke="#7f7f7f" stroke-width="1.6"/><polygon points="3.6,13.2 9.4,8.4 17.4,14.8 24.4,10.2 24.4,21.8 3.6,21.8" fill="#868686"/><circle cx="17.7" cy="6.1" r="2.5" fill="#8a8a8a"/><circle cx="24.5" cy="21.6" r="7.1" fill="#f0efef"/><circle cx="24.5" cy="21.6" r="5.9" fill="#808080"/><path d="M23.1 17.3h2.8v2.9h2.9v2.8h-2.9v2.9h-2.8v-2.9h-2.9v-2.8h2.9z" fill="#fff"/></svg>
<div class="t" style="top:227.52px;font-size:7.3px;line-height:8.76px;color:#141414;font-weight:700;left:221.3px;">Your position</div>
<div class="t" style="top:235.725px;font-size:5.29px;line-height:6.35px;color:#161616;left:221.3px;">Your Name</div>
<div style="left:188.2px;top:262px;width:22.6px;height:22.6px;background:#f1f0f0;border-radius:50%;"></div>
<div style="left:189.9px;top:263.7px;width:19.2px;height:19.2px;background:#e9e8e8;border-radius:50%;"></div>
<svg style="left:191.85px;top:266.436px" width="16.5" height="14.9286" viewBox="0 0 31.5 28.5"><rect x="0.8" y="0.8" width="26.6" height="23.8" rx="0.8" fill="#f3f2f2" stroke="#7f7f7f" stroke-width="1.6"/><polygon points="3.6,13.2 9.4,8.4 17.4,14.8 24.4,10.2 24.4,21.8 3.6,21.8" fill="#868686"/><circle cx="17.7" cy="6.1" r="2.5" fill="#8a8a8a"/><circle cx="24.5" cy="21.6" r="7.1" fill="#f0efef"/><circle cx="24.5" cy="21.6" r="5.9" fill="#808080"/><path d="M23.1 17.3h2.8v2.9h2.9v2.8h-2.9v2.9h-2.8v-2.9h-2.9v-2.8h2.9z" fill="#fff"/></svg>
<div class="t" style="top:266.52px;font-size:7.3px;line-height:8.76px;color:#141414;font-weight:700;left:221.3px;">Your position</div>
<div class="t" style="top:274.725px;font-size:5.29px;line-height:6.35px;color:#161616;left:221.3px;">Your Name</div>
<div style="left:294.7px;top:223px;width:22.6px;height:22.6px;background:#f1f0f0;border-radius:50%;"></div>
<div style="left:296.4px;top:224.7px;width:19.2px;height:19.2px;background:#e9e8e8;border-radius:50%;"></div>
<svg style="left:298.35px;top:227.436px" width="16.5" height="14.9286" viewBox="0 0 31.5 28.5"><rect x="0.8" y="0.8" width="26.6" height="23.8" rx="0.8" fill="#f3f2f2" stroke="#7f7f7f" stroke-width="1.6"/><polygon points="3.6,13.2 9.4,8.4 17.4,14.8 24.4,10.2 24.4,21.8 3.6,21.8" fill="#868686"/><circle cx="17.7" cy="6.1" r="2.5" fill="#8a8a8a"/><circle cx="24.5" cy="21.6" r="7.1" fill="#f0efef"/><circle cx="24.5" cy="21.6" r="5.9" fill="#808080"/><path d="M23.1 17.3h2.8v2.9h2.9v2.8h-2.9v2.9h-2.8v-2.9h-2.9v-2.8h2.9z" fill="#fff"/></svg>
<div class="t" style="top:227.52px;font-size:7.3px;line-height:8.76px;color:#141414;font-weight:700;left:326.5px;">Your position</div>
<div class="t" style="top:235.725px;font-size:5.29px;line-height:6.35px;color:#161616;left:326.5px;">Your Name</div>
</div>
</body></html>
